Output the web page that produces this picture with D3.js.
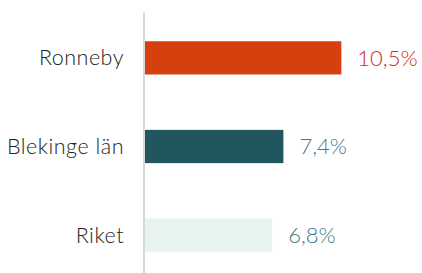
<!DOCTYPE html>
<html>
<head>
<meta charset="utf-8">
<script src="https://cdn.jsdelivr.net/npm/d3@7"></script>
<style>
  body { margin: 0; background: #fff; }
  text { font-family: "Lato", sans-serif; font-weight: 300; }
</style>
</head>
<body>
<div id="chart"></div>
<script>
// andel per område, procent
var categories = ["Ronneby", "Blekinge län", "Riket"];
var values = [10.5, 7.4, 6.8];
var valueLabels = ["10,5%", "7,4%", "6,8%"];

var barColors = ["#d6400f", "#22565f", "#e6f3f1"];
var labelColors = ["#cf2a25", "#467780", "#467780"];

var margin = {top: 12, right: 0, bottom: 0, left: 145},
	width = 422 - margin.left - margin.right,
	height = 273 - margin.top - margin.bottom;

var svg = d3.select("#chart").append("svg")
	.attr("width", width + margin.left + margin.right)
	.attr("height", height + margin.top + margin.bottom)
  .append("g")
	.attr("transform", "translate(" + margin.left + "," + margin.top + ")");

// 18.7 px per procentenhet
var x = d3.scaleLinear().domain([0, 10]).range([0, 187]);
var y = d3.scaleBand()
	.domain(categories)
	.range([0, 269])
	.paddingInner(0.625)
	.paddingOuter(0.33);

var rows = categories.map(function(c, i) {
	return {name: c, value: values[i], label: valueLabels[i], i: i};
});

svg.selectAll(".bar")
	.data(rows)
  .enter().append("rect")
	.attr("class", "bar")
	.attr("x", 0)
	.attr("y", function(d) { return y(d.name); })
	.attr("width", function(d) { return x(d.value); })
	.attr("height", y.bandwidth())
	.style("fill", function(d) { return barColors[d.i]; });

// kategorier till vänster
svg.selectAll(".cat")
	.data(rows)
  .enter().append("text")
	.attr("class", "cat")
	.attr("x", -21)
	.attr("y", function(d) { return y(d.name) + y.bandwidth() / 2; })
	.attr("dy", "0.35em")
	.attr("text-anchor", "end")
	.style("font-size", "21.5px")
	.style("letter-spacing", "0.5px")
	.style("fill", "#222")
	.text(function(d) { return d.name; });

svg.selectAll(".val")
	.data(rows)
  .enter().append("text")
	.attr("class", "val")
	.attr("x", function(d) { return x(d.value) + 16; })
	.attr("y", function(d) { return y(d.name) + y.bandwidth() / 2; })
	.attr("dy", "0.35em")
	.style("font-size", "22px")
	.style("fill", function(d) { return labelColors[d.i]; })
	.text(function(d) { return d.label; });

svg.append("line")
	.attr("x1", -1).attr("x2", -1)
	.attr("y1", 0).attr("y2", height)
	.style("stroke", "#d9d9d9")
	.style("stroke-width", 2);
</script>
</body>
</html>
